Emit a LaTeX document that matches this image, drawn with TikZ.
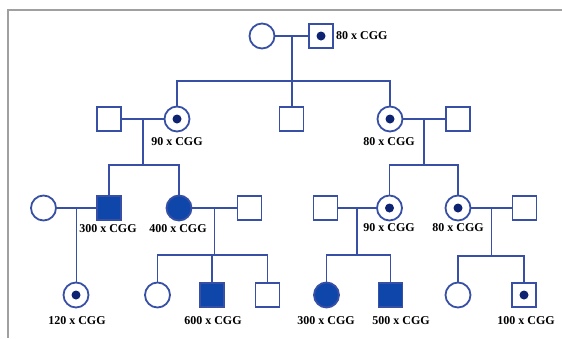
\documentclass[tikz,border=0pt]{standalone}
\usepackage{fontspec}
\setmainfont{Liberation Serif}
\usetikzlibrary{calc}
\definecolor{pline}{RGB}{55,80,165}
\definecolor{pfill}{RGB}{15,70,170}
\definecolor{pdot}{RGB}{15,35,115}
\definecolor{frame}{RGB}{160,160,160}
\tikzset{
  sym/.style={draw=pline, line width=1.8pt, fill=white, inner sep=0pt},
  msq/.style={sym, rectangle, minimum size=24pt},
  fcirc/.style={sym, circle, minimum size=25pt},
  aff/.style={fill=pfill},
  carrier/.style={path picture={\fill[pdot] (path picture bounding box.center) circle (4.5pt);}},
  lnk/.style={draw=pline, line width=1.7pt},
  lab/.style={font=\bfseries\fontsize{12}{14}\selectfont, inner sep=0pt, text=black}
}
\begin{document}
\begin{tikzpicture}[x=1pt,y=-1pt]
\useasboundingbox (0,0) rectangle (562,338);
\draw[frame, line width=2pt] (8,338) -- (8,10) -- (562,10);
% generation I
\node[fcirc] (I1) at (262,36) {};
\node[msq,carrier] (I2) at (321,36) {};
\node[lab, anchor=west] (lI2) at (336,36) {80 x CGG};
% generation II
\node[msq] (II1) at (109,119) {};
\node[fcirc,carrier] (II2) at (177,119) {};
\node[msq] (II3) at (291.5,119) {};
\node[fcirc,carrier] (II4) at (390,119) {};
\node[msq] (II5) at (458,119) {};
\node[lab] (lII2) at (177,142) {90 x CGG};
\node[lab] (lII4) at (389,142) {80 x CGG};
% generation III
\node[fcirc] (III1) at (43.5,208) {};
\node[msq,aff] (III2) at (109,208) {};
\node[fcirc,aff] (III3) at (179,208) {};
\node[msq] (III4) at (249.5,208) {};
\node[msq] (III5) at (325.5,208) {};
\node[fcirc,carrier] (III6) at (389.5,208) {};
\node[fcirc,carrier] (III7) at (458,208) {};
\node[msq] (III8) at (524.5,208) {};
\node[lab] (lIII2) at (108,229) {300 x CGG};
\node[lab] (lIII3) at (178,229) {400 x CGG};
\node[lab] (lIII6) at (389,228) {90 x CGG};
\node[lab] (lIII7) at (458,228) {80 x CGG};
% generation IV
\node[fcirc,carrier] (IV1) at (76,295) {};
\node[fcirc] (IV2) at (157.5,295) {};
\node[msq,aff] (IV3) at (212,295) {};
\node[msq] (IV4) at (267.5,295) {};
\node[fcirc,aff] (IV5) at (326.5,295) {};
\node[msq,aff] (IV6) at (390.5,295) {};
\node[fcirc] (IV7) at (458,295) {};
\node[msq,carrier] (IV8) at (524,295) {};
\node[lab] (lIV1) at (77,321) {120 x CGG};
\node[lab] (lIV3) at (213,321) {600 x CGG};
\node[lab] (lIV5) at (326,321) {300 x CGG};
\node[lab] (lIV6) at (401,321) {500 x CGG};
\node[lab] (lIV8) at (526,321) {100 x CGG};
% marriages and descent
\coordinate (m1) at ($(I1.east)!0.5!(I2.west)$);
\coordinate (s1) at (m1 |- 0,81);
\draw[lnk] (I1.east) -- (I2.west);
\draw[lnk] (m1) -- (m1 |- II3.north);
\draw[lnk] (II2.north) |- (s1) -| (II4.north);

\coordinate (m2) at ($(II1.east)!0.5!(II2.west)$);
\coordinate (s2) at (m2 |- 0,165);
\draw[lnk] (II1.east) -- (II2.west);
\draw[lnk] (m2) -- (s2);
\draw[lnk] (III2.north) |- (s2) -| (III3.north);

\coordinate (m3) at ($(II4.east)!0.5!(II5.west)$);
\coordinate (s3) at (m3 |- 0,165);
\draw[lnk] (II4.east) -- (II5.west);
\draw[lnk] (m3) -- (s3);
\draw[lnk] (III6.north) |- (s3) -| (III7.north);

\coordinate (m4) at ($(III1.east)!0.5!(III2.west)$);
\draw[lnk] (III1.east) -- (III2.west);
\draw[lnk] (m4) -- (m4 |- IV1.north);

\coordinate (m5) at ($(III3.east)!0.5!(III4.west)$);
\coordinate (s5) at (m5 |- 0,255);
\draw[lnk] (III3.east) -- (III4.west);
\draw[lnk] (m5) -- (s5);
\draw[lnk] (IV2.north) |- (s5) -| (IV4.north);
\draw[lnk] (s5 -| IV3.north) -- (IV3.north);

\coordinate (m6) at ($(III5.east)!0.5!(III6.west)$);
\coordinate (s6) at (m6 |- 0,255);
\draw[lnk] (III5.east) -- (III6.west);
\draw[lnk] (m6) -- (s6);
\draw[lnk] (IV5.north) |- (s6) -| (IV6.north);

\coordinate (m7) at ($(III7.east)!0.5!(III8.west)$);
\coordinate (s7) at (m7 |- 0,256);
\draw[lnk] (III7.east) -- (III8.west);
\draw[lnk] (m7) -- (s7);
\draw[lnk] (IV7.north) |- (s7) -| (IV8.north);
\end{tikzpicture}
\end{document}
